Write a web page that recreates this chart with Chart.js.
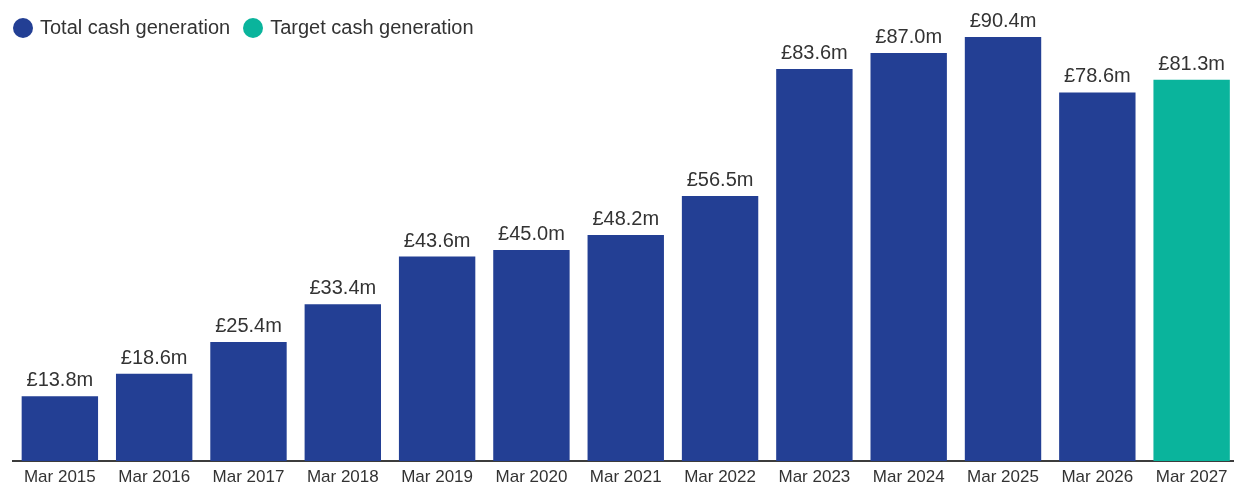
<!DOCTYPE html>
<html lang="en">
<head>
    <meta charset="UTF-8">
    <title>Cash generation</title>
    <style>
        html, body {
            margin: 0;
            padding: 0;
            background: #ffffff;
            overflow: hidden;
        }

        .wrap {
            position: relative;
            width: 1240px;
            height: 485px;
            overflow: hidden;
        }

        .legend {
            position: absolute;
            left: 13px;
            top: 16px;
            display: flex;
            align-items: center;
            font-family: 'Liberation Sans', Arial, sans-serif;
            font-size: 20px;
            color: #333333;
        }

        .legend-item {
            display: flex;
            align-items: center;
            margin-right: 13px;
        }

        .legend-dot {
            width: 20px;
            height: 20px;
            border-radius: 50%;
            margin-right: 7px;
        }
    </style>
</head>
<body>
    <div class="wrap">
        <canvas id="cashChart" width="1240" height="485"></canvas>
        <div class="legend" id="legend"></div>
    </div>
    <script src="https://cdn.jsdelivr.net/npm/chart.js"></script>
    <script>
        const categories = ['Mar 2015', 'Mar 2016', 'Mar 2017', 'Mar 2018', 'Mar 2019', 'Mar 2020', 'Mar 2021',
            'Mar 2022', 'Mar 2023', 'Mar 2024', 'Mar 2025', 'Mar 2026', 'Mar 2027'];
        const totalCash = [13.8, 18.6, 25.4, 33.4, 43.6, 45.0, 48.2, 56.5, 83.6, 87.0, 90.4, 78.6, null];
        const targetCash = [null, null, null, null, null, null, null, null, null, null, null, null, 81.3];
        const seriesNames = ['Total cash generation', 'Target cash generation'];
        const seriesColors = ['#233f94', '#0ab49c'];

        // legend sits over the top-left of the plot
        const legendEl = document.getElementById('legend');
        seriesNames.forEach((name, i) => {
            const item = document.createElement('div');
            item.className = 'legend-item';
            const dot = document.createElement('span');
            dot.className = 'legend-dot';
            dot.style.background = seriesColors[i];
            item.appendChild(dot);
            item.appendChild(document.createTextNode(name));
            legendEl.appendChild(item);
        });

        // value labels above each bar
        const valueLabels = {
            id: 'valueLabels',
            afterDatasetsDraw(chart) {
                const ctx = chart.ctx;
                ctx.save();
                ctx.font = '20px "Liberation Sans", Arial, sans-serif';
                ctx.fillStyle = '#333333';
                ctx.textAlign = 'center';
                ctx.textBaseline = 'alphabetic';
                chart.data.datasets.forEach((ds, di) => {
                    chart.getDatasetMeta(di).data.forEach((bar, i) => {
                        const v = ds.data[i];
                        if (v === null || v === undefined) return;
                        ctx.fillText('£' + v.toFixed(1) + 'm', bar.x, bar.y - 10);
                    });
                });
                ctx.restore();
            }
        };

        const ctx = document.getElementById('cashChart').getContext('2d');
        new Chart(ctx, {
            type: 'bar',
            data: {
                labels: categories,
                datasets: [{
                    label: seriesNames[0],
                    data: totalCash,
                    backgroundColor: seriesColors[0],
                    barPercentage: 0.81,
                    categoryPercentage: 1,
                    grouped: false
                }, {
                    label: seriesNames[1],
                    data: targetCash,
                    backgroundColor: seriesColors[1],
                    barPercentage: 0.81,
                    categoryPercentage: 1,
                    grouped: false
                }]
            },
            options: {
                responsive: false,
                animation: false,
                layout: {
                    padding: { left: 12.7, right: 1.2, top: 15.5, bottom: 0 }
                },
                plugins: {
                    legend: { display: false },
                    tooltip: { enabled: false }
                },
                scales: {
                    x: {
                        grid: { display: false, drawTicks: false },
                        border: { display: true, color: '#3c3c3c', width: 2 },
                        ticks: {
                            color: '#333333',
                            padding: 6,
                            maxRotation: 0,
                            font: { family: '"Liberation Sans", Arial, sans-serif', size: 17 }
                        },
                        // keep the axis band a fixed height so the baseline lands low
                        afterFit(scale) {
                            scale.height = 24;
                        }
                    },
                    y: {
                        display: false,
                        min: 0,
                        max: 95
                    }
                }
            },
            plugins: [valueLabels]
        });
    </script>
</body>
</html>
